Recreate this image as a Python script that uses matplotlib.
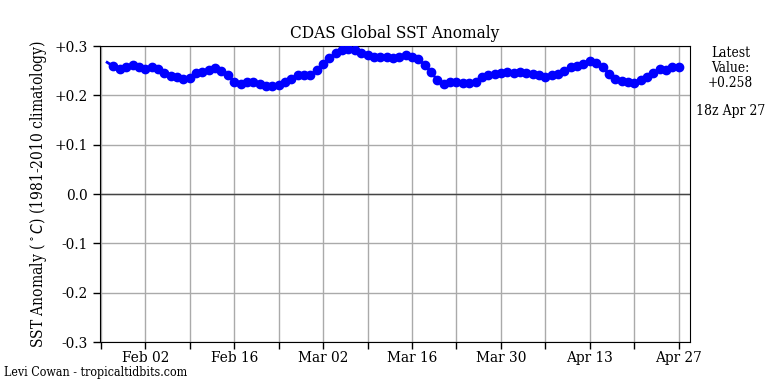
import datetime as dt

import matplotlib
matplotlib.use("Agg")
import matplotlib.pyplot as plt
import matplotlib.dates as mdates

# daily CDAS global SST anomaly, Jan 27 .. Apr 27
start_date = dt.datetime(2021, 1, 27)
anomaly = [
    0.267, 0.259, 0.253, 0.258, 0.262, 0.257, 0.253, 0.258, 0.254, 0.246,
    0.239, 0.237, 0.233, 0.235, 0.245, 0.247, 0.251, 0.255, 0.250, 0.241,
    0.228, 0.224, 0.227, 0.228, 0.223, 0.219, 0.219, 0.222, 0.227, 0.234,
    0.242, 0.242, 0.242, 0.251, 0.264, 0.276, 0.285, 0.293, 0.295, 0.293,
    0.285, 0.281, 0.277, 0.277, 0.277, 0.276, 0.278, 0.281, 0.278, 0.273,
    0.262, 0.247, 0.231, 0.224, 0.227, 0.228, 0.226, 0.226, 0.228, 0.238,
    0.242, 0.243, 0.245, 0.247, 0.246, 0.247, 0.246, 0.243, 0.241, 0.238,
    0.241, 0.243, 0.249, 0.257, 0.260, 0.264, 0.270, 0.266, 0.258, 0.243,
    0.234, 0.230, 0.228, 0.226, 0.231, 0.238, 0.245, 0.253, 0.251, 0.257,
    0.258,
]
dates = [start_date + dt.timedelta(days=i) for i in range(len(anomaly))]

y_ticks = [-0.3, -0.2, -0.1, 0.0, 0.1, 0.2, 0.3]
y_labels = ["-0.3", "-0.2", "-0.1", "0.0", "+0.1", "+0.2", "+0.3"]
label_dates = [dt.datetime(2021, 2, 2) + dt.timedelta(days=14 * i) for i in range(7)]
tick_dates = [dt.datetime(2021, 1, 26) + dt.timedelta(days=7 * i) for i in range(14)]

latest_value = "+0.258"
latest_time = "18z Apr 27"

plt.rcParams.update({
    "font.family": "DejaVu Serif",
    "font.stretch": "condensed",
    "font.size": 10,
})

fig = plt.figure(figsize=(7.68, 3.84), dpi=100)
ax = fig.add_axes([0.130, 0.109, 0.768, 0.771])

ax.plot(dates, anomaly, color="blue", lw=2, marker="o", markersize=6,
        markevery=list(range(1, len(anomaly))), zorder=3)
ax.axhline(0, color="#444444", lw=1, zorder=2)

ax.set_ylim(-0.3, 0.3)
ax.set_yticks(y_ticks)
ax.set_yticklabels(y_labels, fontsize=11)
ax.set_xlim(mdates.date2num(dt.datetime(2021, 1, 26)) - 0.15,
            mdates.date2num(dt.datetime(2021, 4, 27)) + 1.72)
ax.set_xticks([mdates.date2num(d) for d in tick_dates])
ax.set_xticklabels([d.strftime("%b %d") if d in label_dates else ""
                    for d in tick_dates], fontsize=11)
ax.tick_params(length=5, width=1)
ax.tick_params(axis="x", pad=1.5)
ax.grid(True, color="#aaaaaa", lw=1)
ax.set_axisbelow(True)

ax.set_title("CDAS Global SST Anomaly", fontsize=12.3)
ax.set_ylabel(r"SST Anomaly ($^\circ C$) (1981-2010 climatology)", fontsize=11.2)

fig.text(0.951, 0.881, f"Latest\nValue:\n{latest_value}", ha="center",
         va="top", fontsize=9.8, linespacing=1.1)
fig.text(0.951, 0.711, latest_time, ha="center", va="center", fontsize=10)
fig.text(0.005, 0.031, "Levi Cowan - tropicaltidbits.com", ha="left",
         va="center", fontsize=8.9)

fig.savefig("out.png", dpi=100)
